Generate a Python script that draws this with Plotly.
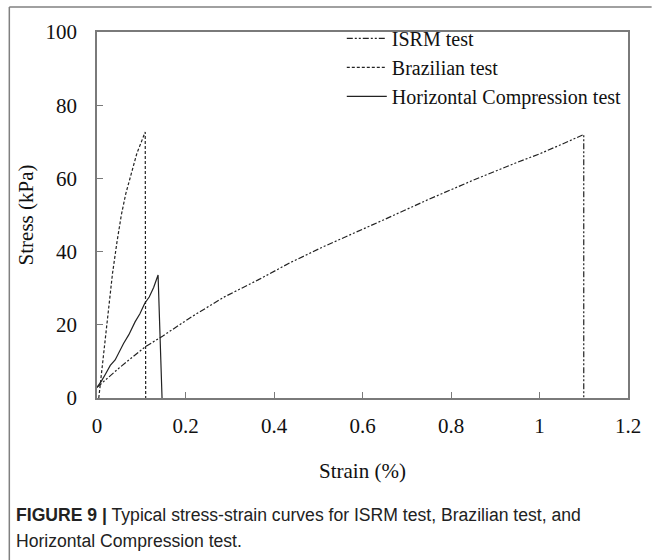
import plotly.graph_objects as go

# ---- data ----
isrm_strain = [0, 0.05, 0.108, 0.148, 0.214, 0.289, 0.363, 0.437, 0.511, 0.585, 0.65, 0.75, 0.85, 0.95, 1.0, 1.05, 1.1, 1.1]
isrm_stress = [2.9, 8.2, 13.9, 16.9, 22.2, 27.7, 32.2, 37.0, 41.3, 45.4, 48.8, 54.3, 59.5, 64.4, 66.7, 69.3, 72.0, 0]

braz_strain = [0.004, 0.015, 0.025, 0.035, 0.045, 0.055, 0.065, 0.075, 0.09, 0.109, 0.110]
braz_stress = [0, 12.5, 24.0, 34.0, 42.5, 50.0, 55.8, 60.5, 66.8, 72.7, 0]

hc_strain = [0, 0.01, 0.019, 0.03, 0.041, 0.05, 0.06, 0.072, 0.086, 0.097, 0.108, 0.118, 0.128, 0.138, 0.147]
hc_stress = [2.9, 4.6, 6.5, 8.9, 10.4, 12.6, 14.9, 17.3, 20.8, 23.0, 25.9, 27.6, 30.2, 33.6, 0]

x_ticks = [0, 0.2, 0.4, 0.6, 0.8, 1.0, 1.2]
x_tick_text = ["0", "0.2", "0.4", "0.6", "0.8", "1", "1.2"]
y_ticks = [0, 20, 40, 60, 80, 100]
y_tick_text = ["0", "20", "40", "60", "80", "100"]

series_names = ["ISRM test", "Brazilian test", "Horizontal Compression test"]

serif = "Liberation Serif, Times New Roman, serif"
sans = "Liberation Sans, Arial, sans-serif"
line_col = "#222222"
axis_col = "#7a7a7a"

fig = go.Figure()
fig.add_trace(go.Scatter(x=isrm_strain, y=isrm_stress, mode="lines", name=series_names[0],
                         line=dict(color=line_col, width=1.2, dash="6px,2px,2px,2px,2px,2px")))
fig.add_trace(go.Scatter(x=braz_strain, y=braz_stress, mode="lines", name=series_names[1],
                         line=dict(color=line_col, width=1.2, dash="3px,2px")))
fig.add_trace(go.Scatter(x=hc_strain, y=hc_stress, mode="lines", name=series_names[2],
                         line=dict(color=line_col, width=1.2)))

fig.update_layout(
    width=653, height=560,
    margin=dict(l=97, r=17, t=32, b=162),
    paper_bgcolor="white", plot_bgcolor="white",
    showlegend=True,
    legend=dict(x=0.461, y=1.036, xanchor="left", yanchor="top",
                bgcolor="rgba(0,0,0,0)", font=dict(family=serif, size=20, color="#111"),
                tracegroupgap=0, itemwidth=40),
    font=dict(family=serif, size=21, color="#111"),
)
fig.update_xaxes(range=[0, 1.2], tickvals=x_ticks, ticktext=x_tick_text,
                 showgrid=False, zeroline=False, showline=True, linecolor=axis_col, linewidth=1.5,
                 mirror=True, ticks="inside", ticklen=6, tickcolor=axis_col,
                 tickfont=dict(family=serif, size=21, color="#111"), ticklabelstandoff=8,
                 title=dict(text="Strain (%)", font=dict(family=serif, size=21, color="#111"), standoff=26))
fig.update_yaxes(range=[0, 100], tickvals=y_ticks, ticktext=y_tick_text,
                 showgrid=False, zeroline=False, showline=True, linecolor=axis_col, linewidth=1.5,
                 mirror=True, ticks="inside", ticklen=6, tickcolor=axis_col,
                 tickfont=dict(family=serif, size=21, color="#111"), ticklabelstandoff=14,
                 title=dict(text="Stress (kPa)", font=dict(family=serif, size=21, color="#111"), standoff=6))

# outer figure frame (top and left edges visible in the reference)
fig.add_shape(type="line", xref="paper", yref="paper",
              x0=(8 - 97) / 539, x1=(660 - 97) / 539, y0=(398 - 7) / 366, y1=(398 - 7) / 366,
              line=dict(color="#808080", width=1.5))
fig.add_shape(type="line", xref="paper", yref="paper",
              x0=(8 - 97) / 539, x1=(8 - 97) / 539, y0=(398 - 7) / 366, y1=(398 - 570) / 366,
              line=dict(color="#808080", width=1.5))

# caption
fig.add_annotation(xref="paper", yref="paper", x=(13 - 97) / 539, y=(398 - 515) / 366,
                   xanchor="left", yanchor="middle", showarrow=False, align="left",
                   text="<b>FIGURE 9 |</b> Typical stress-strain curves for ISRM test, Brazilian test, and",
                   font=dict(family=sans, size=17.6, color="#222"))
fig.add_annotation(xref="paper", yref="paper", x=(13 - 97) / 539, y=(398 - 541) / 366,
                   xanchor="left", yanchor="middle", showarrow=False, align="left",
                   text="Horizontal Compression test.",
                   font=dict(family=sans, size=17.6, color="#222"))

fig.write_html("out.html")
